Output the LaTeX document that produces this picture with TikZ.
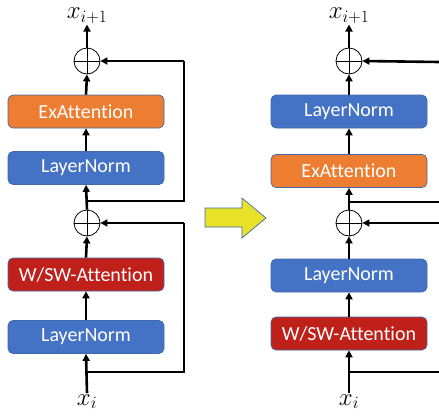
\documentclass[tikz,border=0pt]{standalone}
\usepackage{fontspec}
\setmainfont{Carlito}[RawFeature={-liga;-clig;-dlig}]
\usetikzlibrary{arrows.meta}
\definecolor{bblue}{RGB}{68,114,196}
\definecolor{borange}{RGB}{237,125,49}
\definecolor{bred}{RGB}{192,32,26}
\definecolor{bedge}{RGB}{65,105,170}
\definecolor{ayellow}{RGB}{232,225,42}
\tikzset{
  blk/.style={draw=bedge, line width=0.7pt, rounded corners=5pt, minimum width=156pt, minimum height=33pt, inner sep=0pt, text=white, font=\fontsize{20}{22}\selectfont},
  lnbox/.style={blk, fill=bblue},
  exbox/.style={blk, fill=borange},
  wsbox/.style={blk, fill=bred},
  addop/.style={circle, draw, line width=0.8pt, minimum size=26pt, inner sep=0pt},
  conn/.style={line width=2.6pt, -{Triangle[length=7pt,width=7pt]}},
  wire/.style={line width=2.6pt},
  lbl/.style={inner sep=1pt, anchor=base, font=\fontsize{24}{26}\selectfont}
}
\begin{document}
\begin{tikzpicture}[x=1pt,y=-1pt]
\useasboundingbox (0,0) rectangle (439,415);
% ---------- left column
\node[lbl] (Lout) at (87,18.5) {$x_{i+1}$};
\node[addop] (Lp1) at (87,61) {};
\node[exbox] (Lex) at (86,111.5) {ExAttent\kern0pt ion};
\node[lnbox] (Lln1) at (86,168) {LayerNorm};
\node[addop] (Lp2) at (87,223) {};
\node[wsbox] (Lws) at (86,274.5) {W/SW-Attent\kern0pt ion};
\node[lnbox] (Lln2) at (86,337) {LayerNorm};
\node[lbl] (Lin) at (87,405) {$x_{i}$};
\coordinate (Lb1) at (87,201);
\coordinate (Lb2) at (87,372);
\coordinate (Lc1) at (184,201);
\coordinate (Lc2) at (184,61);
\coordinate (Lc3) at (184,372);
\coordinate (Lc4) at (184,223);
\draw[conn] (Lin.north) -- (Lln2.south);
\draw[conn] (Lln2.north) -- (Lws.south);
\draw[conn] (Lws.north) -- (Lp2.south);
\draw[conn] (Lp2.north) -- (Lln1.south);
\draw[conn] (Lln1.north) -- (Lex.south);
\draw[conn] (Lex.north) -- (Lp1.south);
\draw[conn] (Lp1.north) -- (Lout.south);
\draw[wire] (Lb1) -- (Lc1) -- (Lc2);
\draw[conn] (Lc2) -- (Lp1.east);
\draw[wire] (Lb2) -- (Lc3) -- (Lc4);
\draw[conn] (Lc4) -- (Lp2.east);
\foreach \p in {Lp1,Lp2} {
  \draw[line width=0.8pt] (\p.north) -- (\p.south) (\p.west) -- (\p.east);
}
% ---------- yellow arrow
\draw[draw=bedge, line width=0.7pt, fill=ayellow]
  (205,208) -- (242,208) -- (242,198) -- (266,218) -- (242,238) -- (242,227) -- (205,227) -- cycle;
% ---------- right column
\node[lbl] (Rout) at (349,18.5) {$x_{i+1}$};
\node[addop] (Rp1) at (349,61) {};
\node[lnbox] (Rln1) at (349,111.5) {LayerNorm};
\node[exbox] (Rex) at (349,171) {ExAttent\kern0pt ion};
\node[addop] (Rp2) at (349,223) {};
\node[lnbox] (Rln2) at (349,275.5) {LayerNorm};
\node[wsbox] (Rws) at (349,333.5) {W/SW-Attent\kern0pt ion};
\node[lbl] (Rin) at (349,405) {$x_{i}$};
\coordinate (Rb1) at (349,202);
\coordinate (Rb2) at (349,372);
\coordinate (Re1) at (439,62);
\coordinate (Re2) at (439,202);
\coordinate (Re3) at (439,223);
\coordinate (Re4) at (439,372);
\draw[conn] (Rin.north) -- (Rws.south);
\draw[conn] (Rws.north) -- (Rln2.south);
\draw[conn] (Rln2.north) -- (Rp2.south);
\draw[conn] (Rp2.north) -- (Rex.south);
\draw[conn] (Rex.north) -- (Rln1.south);
\draw[conn] (Rln1.north) -- (Rp1.south);
\draw[conn] (Rp1.north) -- (Rout.south);
\draw[conn] (Re1) -- (Rp1.east);
\draw[conn] (Re3) -- (Rp2.east);
\draw[wire] (Rb1) -- (Re2);
\draw[wire] (Rb2) -- (Re4);
\foreach \p in {Rp1,Rp2} {
  \draw[line width=0.8pt] (\p.north) -- (\p.south) (\p.west) -- (\p.east);
}
\end{tikzpicture}
\end{document}
